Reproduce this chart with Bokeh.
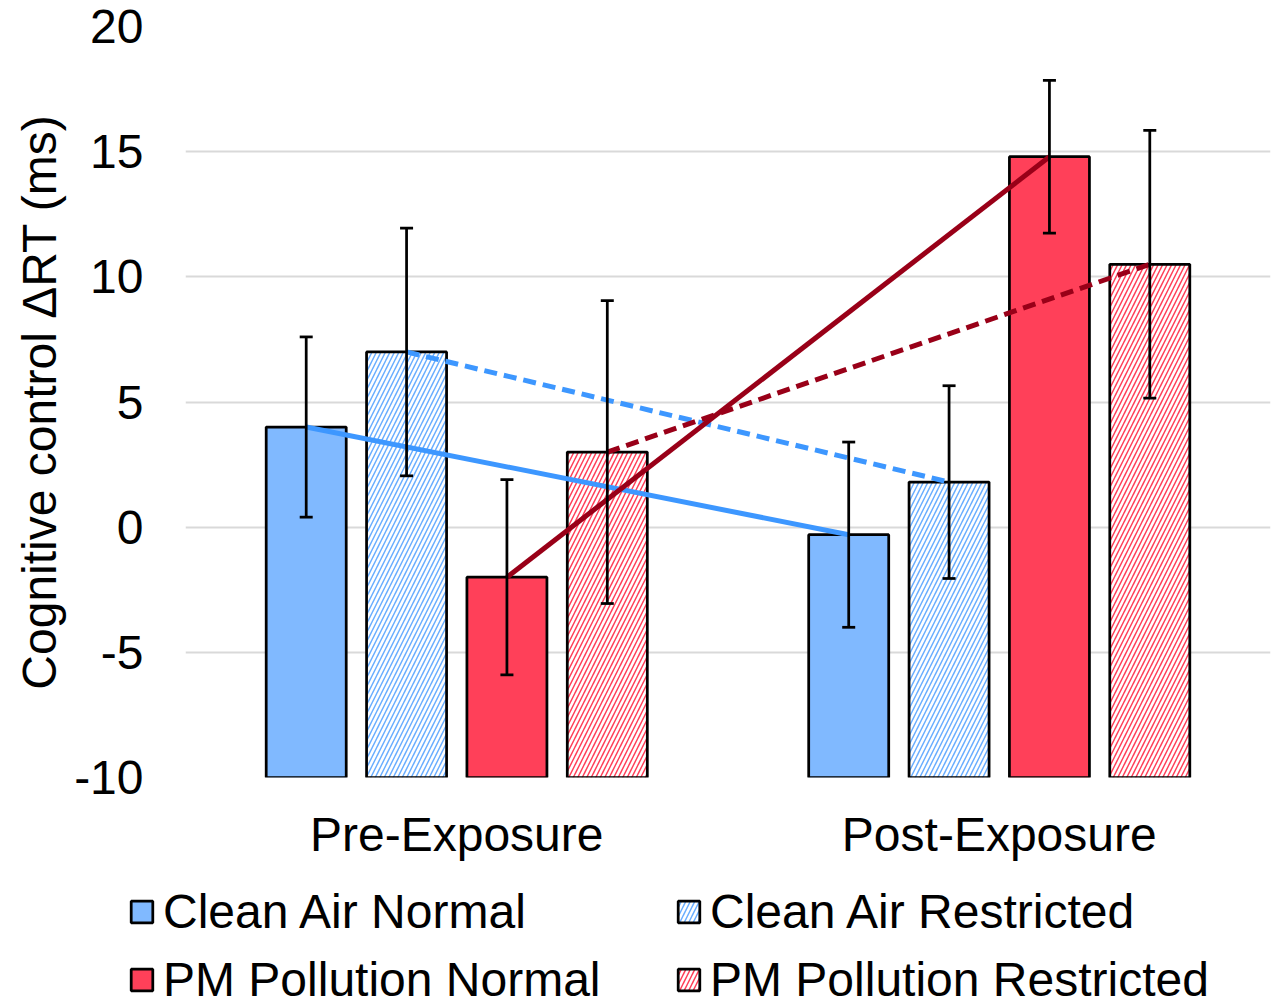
from bokeh.plotting import figure
from bokeh.models import (ColumnDataSource, Range1d, FactorRange, Legend, LegendItem,
                          Whisker, TeeHead, SingleIntervalTicker)
from bokeh.transform import dodge
from bokeh.embed import file_html
from bokeh.resources import INLINE

categories = ["Pre-Exposure", "Post-Exposure"]
series = ["Clean Air Normal", "Clean Air Restricted", "PM Pollution Normal", "PM Pollution Restricted"]
clean_normal = [4.0, -0.3]
clean_restricted = [7.0, 1.8]
pm_normal = [-2.0, 14.8]
pm_restricted = [3.0, 10.5]
err_clean_normal = [3.6, 3.7]
err_clean_restricted = [4.95, 3.85]
err_pm_normal = [3.9, 3.05]
err_pm_restricted = [6.05, 5.35]
y_ticks = [-10, -5, 0, 5, 10, 15, 20]
y_tick_labels = ["-10", "-5", "0", "5", "10", "15", "20"]

values = [clean_normal, clean_restricted, pm_normal, pm_restricted]
errors = [err_clean_normal, err_clean_restricted, err_pm_normal, err_pm_restricted]

FONT = "Liberation Sans"
FS = "48px"
BLUE_FILL = "#80B9FF"
RED_FILL = "#FF4059"
BLUE_LINE = "#3D97FF"
RED_LINE = "#990018"

offsets = [-0.2775, -0.0925, 0.0925, 0.2775]
bar_w = 0.1475
styles = [
    dict(fill_color=BLUE_FILL, hatch=None, hcol=None, lcol=BLUE_LINE, dash="solid"),
    dict(fill_color="white", hatch="/", hcol="#6AAEFF", lcol=BLUE_LINE, dash="13 7"),
    dict(fill_color=RED_FILL, hatch=None, hcol=None, lcol=RED_LINE, dash="solid"),
    dict(fill_color="white", hatch="/", hcol=RED_FILL, lcol=RED_LINE, dash="13 7"),
]


def bar_style(st):
    kw = dict(fill_color=st["fill_color"], line_color="black", line_width=2.75)
    if st["hatch"]:
        kw.update(hatch_pattern=st["hatch"], hatch_color=st["hcol"], hatch_scale=9, hatch_weight=1.5)
    return kw


p = figure(width=1281, height=870, output_backend="svg", toolbar_location=None,
           x_range=FactorRange(factors=categories, range_padding=0),
           y_range=Range1d(-10, 20),
           min_border_left=185, min_border_right=11, min_border_top=26, min_border_bottom=93)
p.outline_line_color = None
p.background_fill_color = "white"
p.border_fill_color = "white"

p.xgrid.grid_line_color = None
p.ygrid.grid_line_color = "#D9D9D9"
p.ygrid.grid_line_width = 2

p.yaxis.ticker = SingleIntervalTicker(interval=5)
p.yaxis.major_label_overrides = {t: lab for t, lab in zip(y_ticks, y_tick_labels)}
for ax in (p.xaxis[0], p.yaxis[0]):
    ax.axis_line_color = None
    ax.major_tick_line_color = None
    ax.minor_tick_line_color = None
    ax.major_tick_out = 0
    ax.major_tick_in = 0
    ax.major_label_text_font = FONT
    ax.major_label_text_font_size = FS
    ax.major_label_text_color = "black"
p.yaxis.major_label_standoff = 38
p.xaxis.major_label_standoff = 30
p.yaxis.axis_label = "Cognitive control ΔRT (ms)"
p.yaxis.axis_label_text_font = FONT
p.yaxis.axis_label_text_font_size = FS
p.yaxis.axis_label_text_font_style = "normal"
p.yaxis.axis_label_text_color = "black"
p.yaxis.axis_label_standoff = 5

for i, name in enumerate(series):
    src = ColumnDataSource(dict(cat=categories, top=values[i]))
    p.vbar(x=dodge("cat", offsets[i], range=p.x_range), top="top", bottom=-10,
           width=bar_w, source=src, **bar_style(styles[i]))

for i, name in enumerate(series):
    st = styles[i]
    src = ColumnDataSource(dict(cat=categories, val=values[i]))
    p.line(x=dodge("cat", offsets[i], range=p.x_range), y="val", source=src,
           line_color=st["lcol"], line_width=5, line_dash=st["dash"])

for i, name in enumerate(series):
    src = ColumnDataSource(dict(
        cat=categories,
        upper=[v + e for v, e in zip(values[i], errors[i])],
        lower=[v - e for v, e in zip(values[i], errors[i])],
    ))
    w = Whisker(base=dodge("cat", offsets[i], range=p.x_range), upper="upper", lower="lower",
                source=src, line_color="black", line_width=2.75, level="overlay",
                upper_head=TeeHead(size=13, line_color="black", line_width=2.75),
                lower_head=TeeHead(size=13, line_color="black", line_width=2.75))
    p.add_layout(w)

# legend panel below the chart (separate root, frame covers whole canvas)
lp = figure(width=1281, height=130, output_backend="svg", toolbar_location=None,
            x_range=Range1d(0, 1), y_range=Range1d(0, 1),
            x_axis_location=None, y_axis_location=None,
            min_border=0, min_border_left=0, min_border_right=0, min_border_top=0, min_border_bottom=0)
lp.grid.visible = False
lp.outline_line_color = None
lp.background_fill_color = "white"
lp.border_fill_color = "white"

leg_pos = [(128, 61), (675, 61), (128, -7), (675, -7)]
for i, name in enumerate(series):
    dummy = ColumnDataSource(dict(x=[float("nan")], top=[float("nan")]))
    r = lp.vbar(x="x", top="top", bottom=0, width=0.1, source=dummy, **bar_style(styles[i]))
    lg = Legend(items=[LegendItem(label=name, renderers=[r])],
                location=leg_pos[i], glyph_width=27, glyph_height=27,
                label_text_font=FONT, label_text_font_size=FS, label_standoff=8,
                label_text_color="black",
                label_height=54, padding=0, margin=0, spacing=0,
                border_line_color=None, background_fill_alpha=0)
    lp.add_layout(lg, "center")

open("out.html", "w").write(file_html([p, lp], INLINE))
